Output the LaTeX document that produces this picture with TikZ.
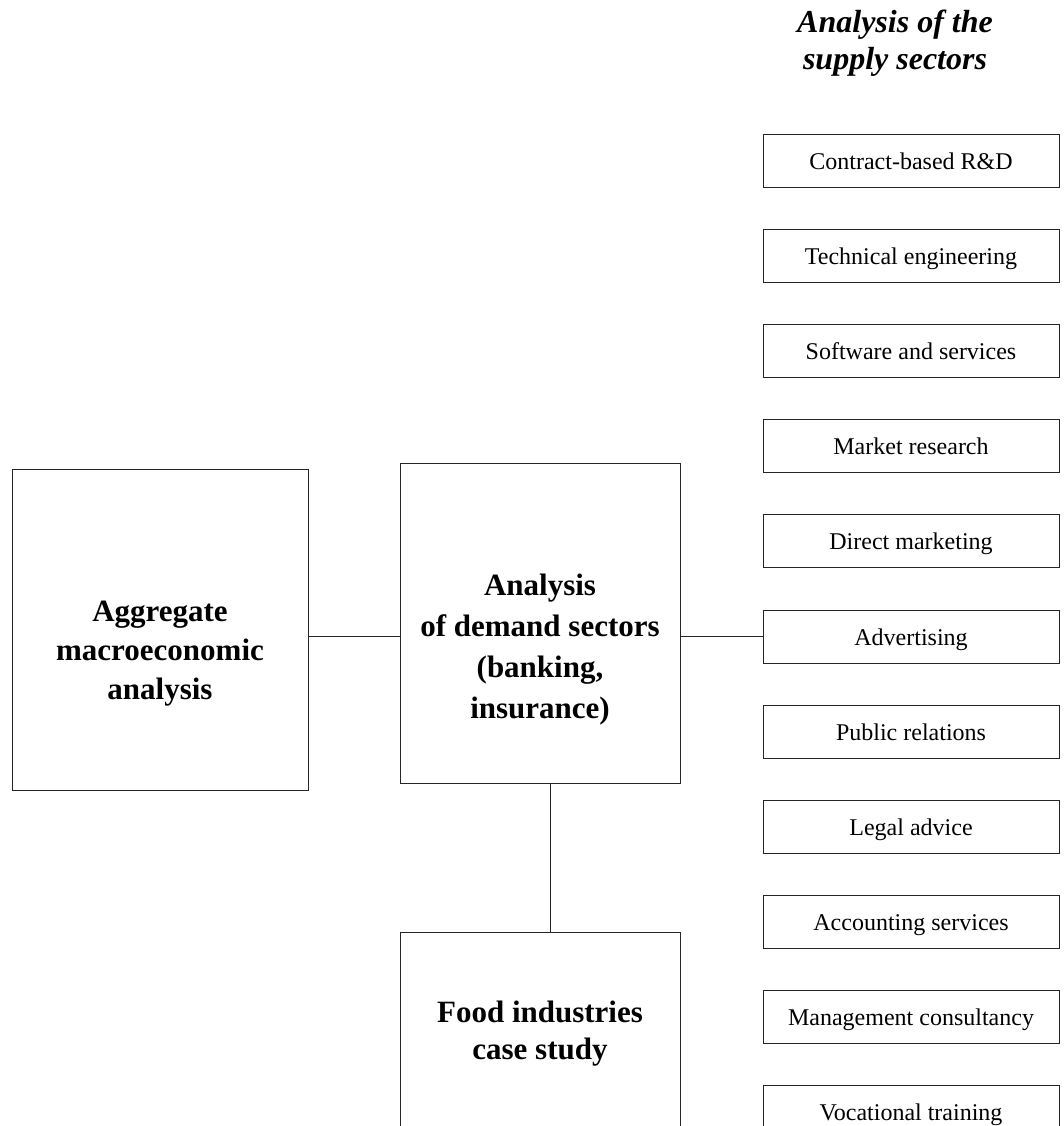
\documentclass[tikz,border=0pt]{standalone}
\usepackage{fontspec}
\setmainfont{Liberation Serif}
\begin{document}
\begin{tikzpicture}[x=1pt,y=-1pt,
  line/.style={draw=black!85,line width=1pt},
  bigbox/.style={line,rectangle,inner sep=0pt},
  smallbox/.style={line,rectangle,inner sep=0pt,minimum width=296pt,minimum height=53pt,
    text height=17pt,text depth=0pt,font=\fontsize{24}{28}\selectfont},
  bigtext/.style={align=center,anchor=base,inner sep=0pt,font=\bfseries\fontsize{31}{41}\selectfont},
  titletext/.style={align=center,anchor=base,inner sep=0pt,font=\bfseries\itshape\fontsize{32}{37}\selectfont}]
\useasboundingbox (0,0) rectangle (1064,1126);
\clip (0,0) rectangle (1064,1126);
% title
\node[titletext] (title) at (895,70) {Analysis of the\\supply sectors};
% big boxes
\node[bigbox,minimum width=296pt,minimum height=321pt] (agg) at (160,629.5) {};
\node[bigbox,minimum width=280pt,minimum height=320pt] (mid) at (540,623) {};
\node[bigbox,minimum width=280pt,minimum height=198pt] (food) at (540,1031) {};
\node[bigtext,font=\bfseries\fontsize{31}{39}\selectfont] (aggT) at (160,699) {Aggregate\\macroeconomic\\analysis};
\node[bigtext] (midT) at (540,718) {Analysis\\of demand sectors\\(banking,\\insurance)};
\node[bigtext,font=\bfseries\fontsize{31}{37}\selectfont] (foodT) at (540,1059) {Food industries\\case study};
% supply sectors
\node[smallbox] (s1) at (911,161.0) {Contract-based R\&D};
\node[smallbox] (s2) at (911,256.1) {Technical engineering};
\node[smallbox] (s3) at (911,351.2) {Software and services};
\node[smallbox] (s4) at (911,446.3) {Market research};
\node[smallbox] (s5) at (911,541.4) {Direct marketing};
\node[smallbox] (s6) at (911,636.5) {Advertising};
\node[smallbox] (s7) at (911,731.6) {Public relations};
\node[smallbox] (s8) at (911,826.7) {Legal advice};
\node[smallbox] (s9) at (911,921.8) {Accounting services};
\node[smallbox] (s10) at (911,1016.9) {Management consultancy};
\node[smallbox] (s11) at (911,1112.0) {Vocational\ training};
% connectors
\draw[line] (agg.east |- s6.west) -- (mid.west |- s6.west);
\draw[line] (mid.east |- s6.west) -- (s6.west);
\draw[line] ([xshift=10pt]mid.south) -- ([xshift=10pt]food.north);
\end{tikzpicture}
\end{document}
